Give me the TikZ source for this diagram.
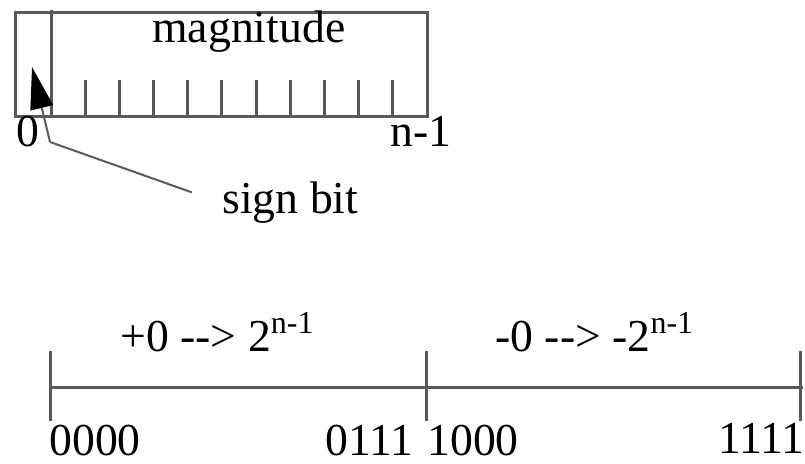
\documentclass[tikz,border=0pt]{standalone}
\usepackage{fontspec}
\setmainfont{Liberation Serif}
\usetikzlibrary{arrows.meta}
\definecolor{grigio}{HTML}{595959}
\tikzset{
    linea/.style={grigio, line width=1.5pt},
    testo/.style={inner sep=0pt, anchor=base west, font=\fontsize{22.85}{27}\selectfont},
}
\begin{document}
\begin{tikzpicture}[x=0.5pt, y=-0.5pt]
        \useasboundingbox (0,0) rectangle (805,464);
        % Registro a n bit
        \def\xs{15}
        \def\xe{427}
        \def\yt{13}
        \def\yb{117}
        \def\xd{51}
        \draw[linea] (\xs,\yt) rectangle (\xe,\yb);
        \draw[linea] (\xd,10) -- (\xd,\yb);
        \foreach \k in {1,...,10}
            \draw[linea] ({\xd+\k*34.18},80) -- ({\xd+\k*34.18},\yb);
        % Etichette del registro
        \node[testo] (magn) at (152,43) {magnitude};
        \node[testo, anchor=base] (zero) at (28,147) {0};
        \node[testo] (nmeno) at (390,147) {n-1};
        \node[testo] (segno) at (222,214) {sign bit};
        % Freccia bit di segno
        \coordinate (gomito) at (50,142);
        \coordinate (punta) at (32,67);
        \draw[grigio, line width=1pt, shorten <=16pt] (segno.west) -- (gomito);
        \draw[grigio, line width=1pt, -{Triangle[length=21pt, width=11.5pt, color=black, fill=black]}]
        (gomito) -- (punta);
        % Asse dei codici
        \def\yl{388}
        \draw[linea] (50,\yl) -- (803,\yl);
        \foreach \x in {50,426,800}
            \draw[linea] (\x,351) -- (\x,421);
        % Intervalli
        \node[testo] (piu) at (120,352) {+0 \mbox{-}\mbox{-}> 2\textsuperscript{n-1}};
        \node[testo] (meno) at (495,352) {-0 \mbox{-}\mbox{-}> -2\textsuperscript{n-1}};
        % Codici
        \node[testo] (c0000) at (49,456) {0000};
        \node[testo] (c0111) at (325,456) {0111};
        \node[testo] (c1000) at (427,456) {1000};
        \node[testo, anchor=base east] (c1111) at (805,454) {1111};
    \end{tikzpicture}
\end{document}
